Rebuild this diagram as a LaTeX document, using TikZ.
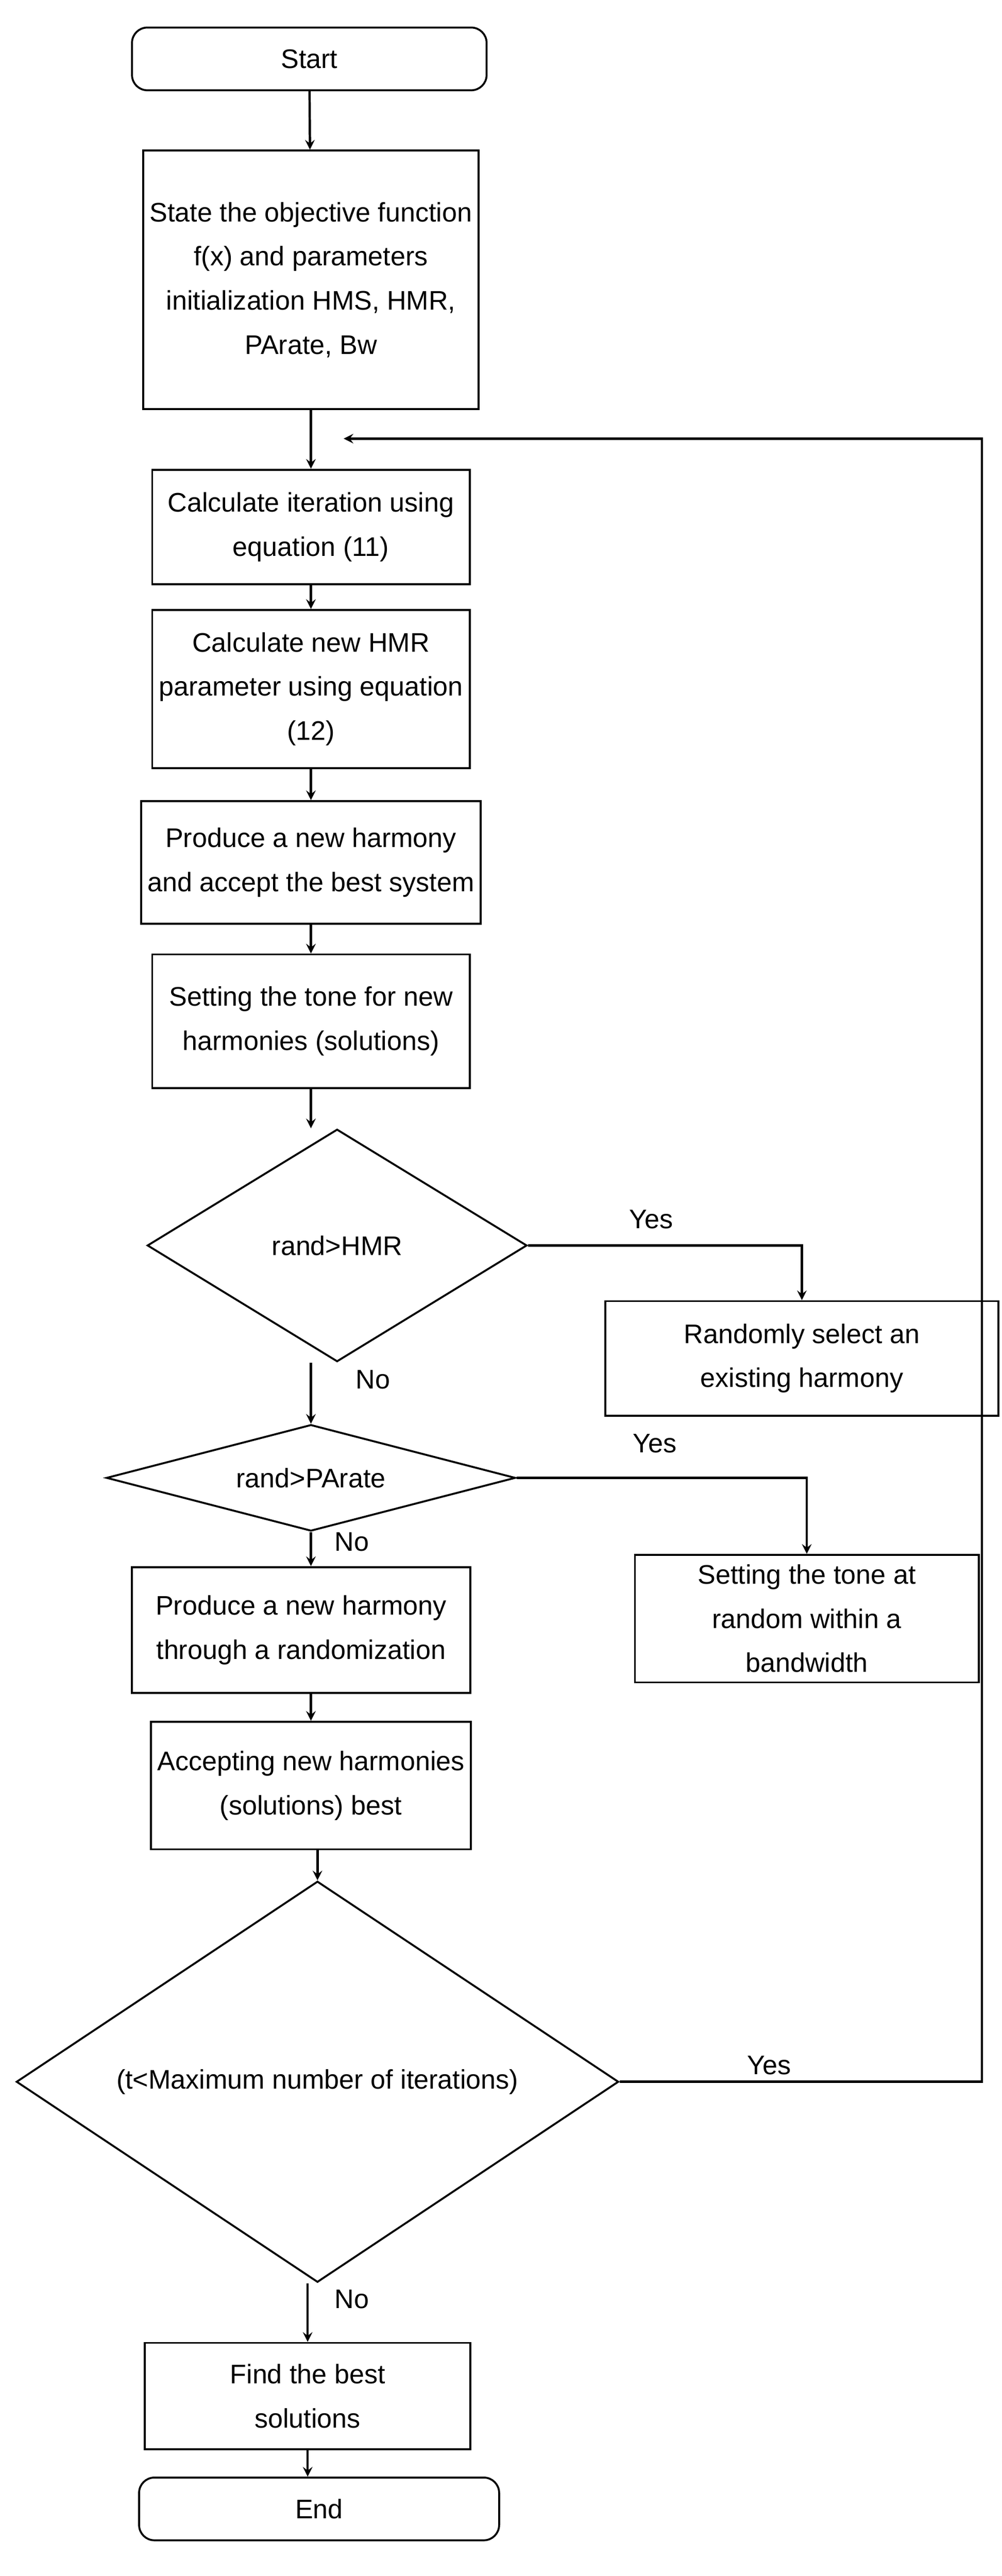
\documentclass[tikz,border=0pt]{standalone}
\usepackage{fontspec}
\setmainfont{Liberation Sans}
\usetikzlibrary{shapes.geometric, arrows}
\tikzstyle{startstop} = [rectangle, rounded corners=8pt, minimum width=6.5cm, minimum height=1.15cm, text centered, draw=black, line width=1pt, font=\fontsize{14}{17}\selectfont]
\tikzstyle{process} = [rectangle, minimum width=5.82cm, align=center, draw=black, line width=1pt, font=\fontsize{14}{23}\selectfont]
\tikzstyle{decision} = [diamond, inner sep=0pt, draw=black, line width=1pt]
\tikzstyle{txt} = [font=\fontsize{14}{17}\selectfont]
\tikzstyle{arrow} = [line width=1.2pt,->,>=stealth]

\begin{document}
\begin{tikzpicture}[x=0.03cm, y=-0.03cm]
    \useasboundingbox (0,0) rectangle (612,1574);
    %nodes
    \node (start) [startstop] at (189,36) {Start};
    \node (init) [process, minimum height=4.74cm] at (190,171) {State the objective function\\f(x) and parameters\\initialization HMS, HMR,\\PArate, Bw};
    \node (iter) [process, minimum height=2.1cm] at (190,322) {Calculate iteration using\\equation (11)};
    \node (hmr) [process, minimum height=2.9cm] at (190,421) {Calculate new HMR\\parameter using equation\\(12)};
    \node (prod) [process, minimum height=2.25cm] at (190,527) {Produce a new harmony\\and accept the best system};
    \node (tone) [process, minimum height=2.45cm] at (190,624) {Setting the tone for new\\harmonies (solutions)};
    \node (dec1) [decision, minimum width=6.96cm, minimum height=4.26cm] at (206,761) {};
    \node [txt] at (dec1) {rand>HMR};
    \node (sel) [process, minimum width=7.2cm, minimum height=2.1cm] at (490,830) {Randomly select an\\existing harmony};
    \node (dec2) [decision, minimum width=7.5cm, minimum height=1.95cm] at (190,903) {};
    \node [txt] at (dec2) {rand>PArate};
    \node (band) [process, minimum width=6.3cm, minimum height=2.34cm] at (493,989) {Setting the tone at\\random within a\\bandwidth};
    \node (rnd) [process, minimum width=6.2cm, minimum height=2.31cm] at (184,996) {Produce a new harmony\\through a randomization};
    \node (acc) [process, minimum height=2.34cm] at (190,1091) {Accepting new harmonies\\(solutions) best};
    \node (dec3) [decision, minimum width=11.04cm, minimum height=7.35cm] at (194,1272) {};
    \node [txt] at (dec3) {(t<Maximum number of iterations)};
    \node (best) [process, minimum width=5.97cm, minimum height=1.95cm] at (188,1464) {Find the best\\solutions};
    \node (stop) [startstop, minimum width=6.6cm] at (195,1533) {End};
    \coordinate (loop) at (600,268);

    %arrows
    \draw [arrow] (start) -- (init);
    \draw [arrow] (init) -- (iter);
    \draw [arrow] (iter) -- (hmr);
    \draw [arrow] (hmr) -- (prod);
    \draw [arrow] (prod) -- (tone);
    \draw [arrow] (tone.south) -- (tone.south |- dec1.north);
    \draw [arrow] (dec1.east) -| (sel.north);
    \draw [arrow] (dec1.south -| dec2.north) -- (dec2.north);
    \draw [arrow] (dec2.east) -| (band.north);
    \draw [arrow] (dec2.south) -- (dec2.south |- rnd.north);
    \draw [arrow] (rnd.south -| acc.south) -- (acc.north |- rnd.south) -- (acc.north);
    \draw [arrow] (acc.south -| dec3.north) -- (dec3.north);
    \draw [arrow] (dec3.east) -| (loop) -- (210,268);
    \draw [arrow] (dec3.south -| best.north) -- (best.north);
    \draw [arrow] (best) -- (best.south |- stop.north);

    %labels
    \node [txt] at (398,745) {Yes};
    \node [txt] at (228,843) {No};
    \node [txt] at (400,882) {Yes};
    \node [txt] at (215,942) {No};
    \node [txt] at (470,1262) {Yes};
    \node [txt] at (215,1405) {No};
\end{tikzpicture}
\end{document}
